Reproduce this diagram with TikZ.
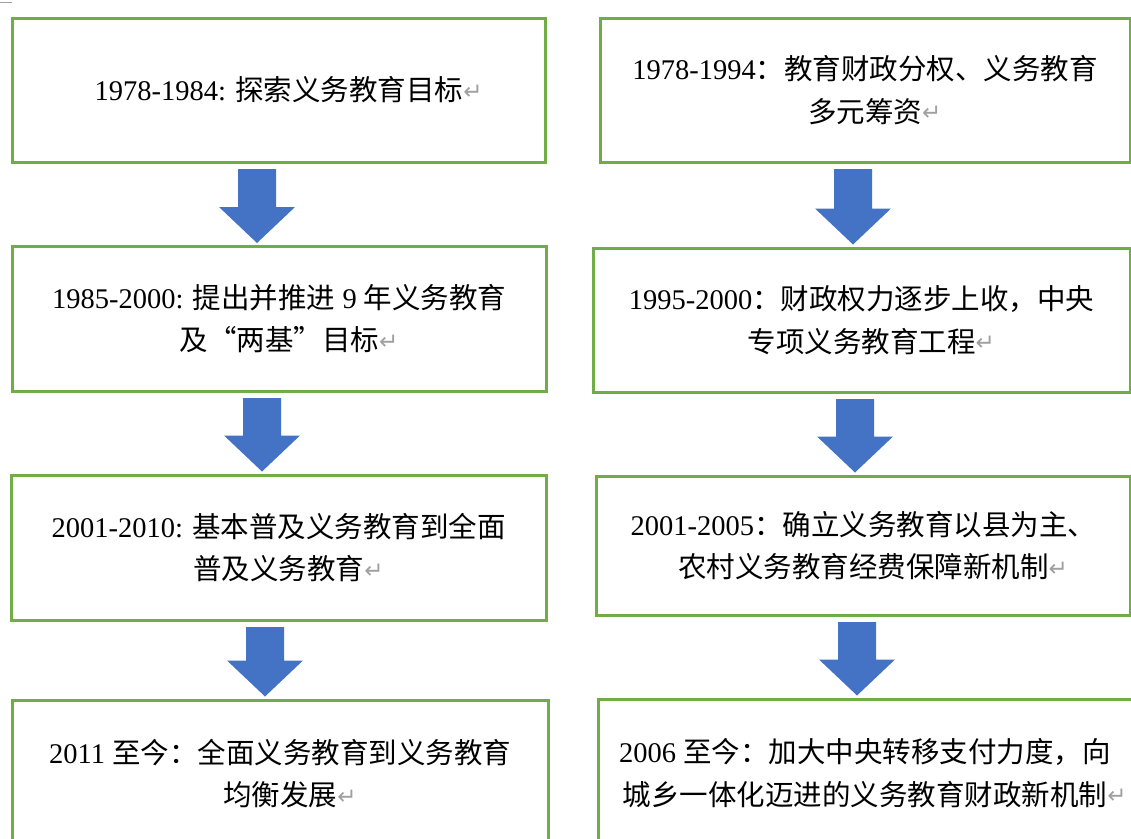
\documentclass[tikz,border=0pt]{standalone}
\usepackage{fontspec}
\setmainfont{Liberation Serif}
\newfontfamily\cjk{Noto Sans CJK SC}
\newfontfamily\symf{DejaVu Sans}
\usetikzlibrary{calc}
\definecolor{boxgreen}{HTML}{70AD47}
\definecolor{arrowblue}{HTML}{4472C4}
\definecolor{markgray}{HTML}{A0A0A0}
\newcommand\parmark{\rlap{\raisebox{1.5pt}{\symf\fontsize{23}{23}\selectfont\color{markgray}↵}}}
\newcommand\zh[1]{{\cjk #1}}
\newcommand\blockarrow[3]{%
  \fill[arrowblue] let \p1=(#1.south), \p2=(#2.north) in
    (#3pt-19pt,\y1-7pt) -- (#3pt+19pt,\y1-7pt) -- (#3pt+19pt,\y2+39.5pt)
    -- (#3pt+38pt,\y2+39.5pt) -- (#3pt,\y2+3.5pt) -- (#3pt-38pt,\y2+39.5pt)
    -- (#3pt-19pt,\y2+39.5pt) -- cycle;}
\tikzset{
  stagebox/.style={draw=boxgreen, line width=3pt, fill=white, inner sep=0pt,
    outer sep=0pt, align=center, text=black,
    font=\fontsize{28.5}{42.5}\selectfont},
}
\begin{document}
\begin{tikzpicture}[x=1pt,y=-1pt]
\useasboundingbox (0,0) rectangle (1131,838);
\clip (0,0) rectangle (1131,838);
\fill[white] (0,0) rectangle (1131,838);
\draw[markgray, line width=0.8pt] (0,2) -- (12,2);
% left column
\node[stagebox, minimum width=533pt, minimum height=144pt] (L1) at (279,90)
  {1978-1984: \zh{探索义务教育目标}\parmark};
\node[stagebox, minimum width=533.5pt, minimum height=144.5pt] (L2) at (279.25,318.75)
  {1985-2000: \zh{提出并推进} 9 \zh{年义务教育}\\\zh{及“两基”目标}\parmark};
\node[stagebox, minimum width=534.5pt, minimum height=145pt] (L3) at (278.75,547.5)
  {2001-2010: \zh{基本普及义务教育到全面}\\\zh{普及义务教育}\parmark};
\node[stagebox, minimum width=535.5pt, minimum height=147pt] (L4) at (280.25,773.5)
  {2011 \zh{至今：全面义务教育到义务教育}\\\zh{均衡发展}\parmark};
% right column
\node[stagebox, minimum width=530pt, minimum height=144pt] (R1) at (865,90)
  {1978-1994\zh{：教育财政分权、义务教育}\\\zh{多元筹资}\parmark};
\node[stagebox, minimum width=537pt, minimum height=144pt] (R2) at (861.5,320)
  {1995-2000\zh{：财政权力逐步上收，中央}\\\zh{专项义务教育工程}\parmark};
\node[stagebox, minimum width=533.5pt, minimum height=139pt] (R3) at (863.25,545.5)
  {2001-2005\zh{：确立义务教育以县为主、}\\\zh{农村义务教育经费保障新机制}\parmark};
\node[stagebox, minimum width=534pt, minimum height=148pt] (R4) at (865,773)
  {2006 \zh{至今：加大中央转移支付力度，向}\\\zh{城乡一体化迈进的义务教育财政新机制}\parmark};
% block arrows
\blockarrow{L1}{L2}{257}
\blockarrow{L2}{L3}{262}
\blockarrow{L3}{L4}{265}
\blockarrow{R1}{R2}{853}
\blockarrow{R2}{R3}{855}
\blockarrow{R3}{R4}{857}
\end{tikzpicture}
\end{document}
